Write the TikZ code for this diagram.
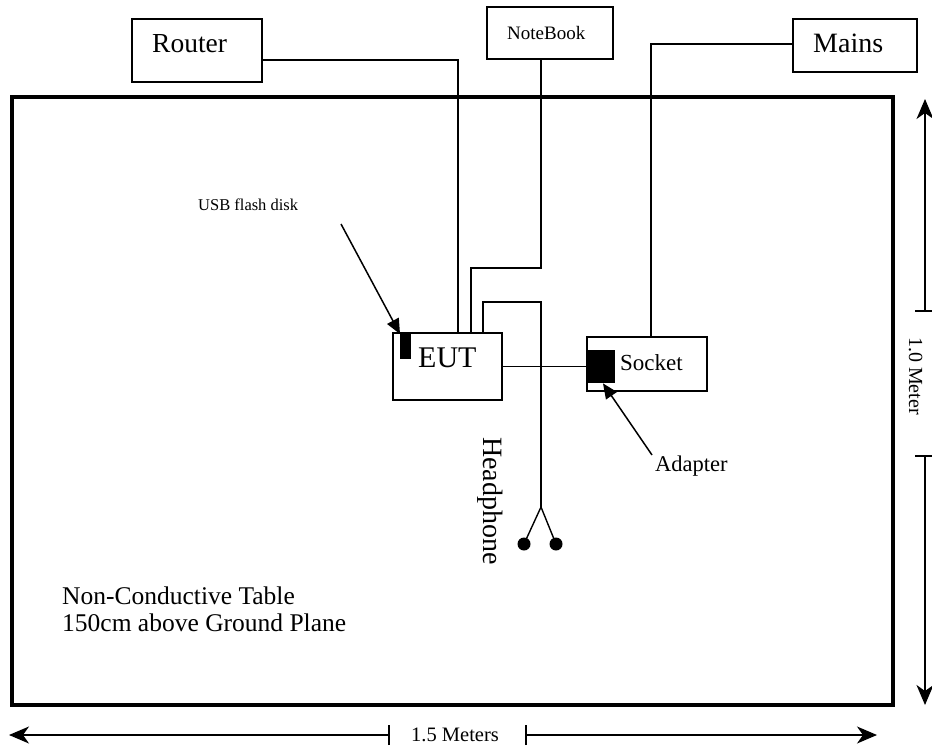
\documentclass[tikz,border=0pt]{standalone}
\usepackage{fontspec}
\setmainfont{Liberation Serif}
\usetikzlibrary{arrows.meta,calc}
\newcommand{\fs}[1]{\fontsize{#1}{#1}\selectfont}
\tikzset{
  box/.style={draw, line width=1.3pt, minimum width=#1, inner sep=0pt},
  txt/.style={inner sep=0pt, anchor=base west},
  wire/.style={line width=1.4pt},
  blk/.style={fill=black, draw=none, inner sep=0pt},
  ptr/.style={line width=1.5pt, -{Triangle[length=15pt,width=13pt]}},
  dim/.style={line width=1.2pt, -{Stealth[length=20pt,width=17pt,inset=6pt]}},
  tick/.style={line width=1.2pt},
  dot/.style={circle, fill=black, inner sep=0pt, minimum size=13pt}
}
\begin{document}
\begin{tikzpicture}[x=1pt,y=-1pt]
\useasboundingbox (0,0) rectangle (932,749);
% table
\draw[line width=3.4pt] (12,97) rectangle (893,705);
% boxes
\node[box=130pt, minimum height=63pt] (router) at (197,50.5) {};
\node[box=126pt, minimum height=52pt] (notebook) at (550,33) {};
\node[box=124pt, minimum height=53pt] (mains) at (855,45.5) {};
\node[box=109pt, minimum height=67pt] (eut) at (447.5,366.5) {};
\node[box=120pt, minimum height=54pt] (socket) at (647,364) {};
% texts
\node[txt, font=\fs{27.5}] (routert) at (152,53) {Router};
\node[txt, font=\fs{19}] (notebookt) at (507,40) {NoteBook};
\node[txt, font=\fs{28}] (mainst) at (813,53) {Mains};
\node[txt, font=\fs{30}] (eutt) at (418,367) {EUT};
\node[txt, font=\fs{23}] (sockett) at (620,370) {Socket};
\node[txt, font=\fs{16.5}] (usbt) at (198,210) {USB flash disk};
\node[txt, font=\fs{22.5}] (adaptert) at (655,471) {Adapter};
\node[txt, font=\fs{28}, rotate=-90] (headt) at (483,437) {Headphone};
\node[txt, font=\fs{25.5}] (table1) at (62,604) {Non-Conductive Table};
\node[txt, font=\fs{25.5}] (table2) at (62,631) {150cm above Ground Plane};
% black blocks
\node[blk, minimum width=11pt, minimum height=25pt, anchor=north west] (usb) at (400,334) {};
\node[blk, minimum width=27pt, minimum height=33pt, anchor=north west] (adapter) at (588,350) {};
% wires
\coordinate (eutr) at ([xshift=10.5pt]eut.north);
\coordinate (eutn) at ([xshift=23.5pt]eut.north);
\coordinate (euth) at ([xshift=35.5pt]eut.north);
\coordinate (nbout) at ([xshift=-9pt]notebook.south);
\draw[wire] (router.east |- 0,60) -| (eutr);
\draw[wire] (nbout) |- (eutn |- 0,268) -- (eutn);
\draw[wire] (mains.west |- 0,44) -| ([xshift=4pt]socket.north);
\draw[wire] (eut.east) -- (eut.east -| adapter.west);
\coordinate (fork) at (541,507);
\node[dot] (ear1) at (524,544) {};
\node[dot] (ear2) at (556,544) {};
\draw[wire] (euth) |- (fork |- 0,302) -- (fork);
\draw[wire] (fork) -- (ear1.center);
\draw[wire] (fork) -- (ear2.center);
% pointer arrows
\coordinate (usbfrom) at (341,224);
\draw[ptr] (usbfrom) -- (usb.north west);
\coordinate (adfrom) at (652,455);
\draw[ptr] (adfrom) -- ([xshift=15pt]adapter.south west);
% dimensions
\coordinate (vt) at (925,99);
\coordinate (vb) at (925,705);
\coordinate (vt1) at (925,311);
\coordinate (vb1) at (925,456);
\draw[dim] (vt1) -- (vt);
\draw[dim] (vb1) -- (vb);
\draw[tick] ([xshift=-10pt]vt1) -- ([xshift=10pt]vt1);
\draw[tick] ([xshift=-10pt]vb1) -- ([xshift=10pt]vb1);
\node[txt, font=\fs{20}, rotate=-90] (vlab) at (909,337) {1.0 Meter};
\coordinate (hl) at (9,735);
\coordinate (hr) at (877,735);
\coordinate (hl1) at (389,735);
\coordinate (hr1) at (526,735);
\draw[dim] (hl1) -- (hl);
\draw[dim] (hr1) -- (hr);
\draw[tick] ([yshift=-10pt]hl1) -- ([yshift=10pt]hl1);
\draw[tick] ([yshift=-10pt]hr1) -- ([yshift=10pt]hr1);
\node[txt, font=\fs{20.5}] (hlab) at (411,741) {1.5 Meters};
\end{tikzpicture}
\end{document}
